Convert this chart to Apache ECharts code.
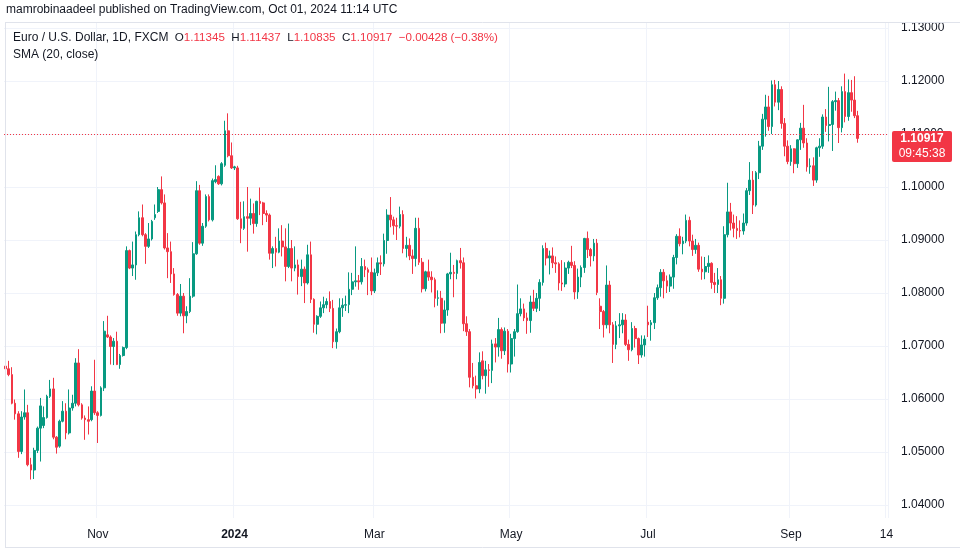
<!DOCTYPE html>
<html><head><meta charset="utf-8">
<script src="https://cdn.jsdelivr.net/npm/echarts/dist/echarts.min.js"></script>
<style>html,body{margin:0;padding:0;background:#fff}#c{width:960px;height:551px}</style>
</head><body><div id="c"></div>
<script>
// ---- DATA ----
const firstDate = '2023-09-21';
const lastAxisDate = '2024-10-14';
const opens = [1.0662,1.0657,1.0646,1.0592,1.0572,1.0501,1.0566,1.0574,1.0476,1.0466,1.0503,1.0545,1.0550,1.0565,1.0605,1.0619,1.0528,1.0511,1.0558,1.0577,1.0536,1.0583,1.0592,1.0668,1.0589,1.0564,1.0561,1.0561,1.0615,1.0574,1.0569,1.0621,1.0721,1.0717,1.0699,1.0709,1.0665,1.0682,1.0697,1.0880,1.0847,1.0853,1.0910,1.0942,1.0910,1.0888,1.0902,1.0942,1.0954,1.0995,1.0970,1.0885,1.0878,1.0836,1.0797,1.0762,1.0794,1.0757,1.0765,1.0794,1.0874,1.0993,1.0894,1.0926,1.0982,1.0938,1.1010,1.1020,1.1006,1.1041,1.1106,1.1059,1.1036,1.1036,1.0940,1.0922,1.0944,1.0941,1.0950,1.0931,1.0973,1.0970,1.0950,1.0947,1.0875,1.0884,1.0877,1.0898,1.0887,1.0850,1.0884,1.0847,1.0853,1.0831,1.0845,1.0819,1.0872,1.0788,1.0741,1.0756,1.0772,1.0778,1.0784,1.0771,1.0708,1.0727,1.0772,1.0777,1.0778,1.0807,1.0821,1.0823,1.0821,1.0850,1.0844,1.0839,1.0804,1.0838,1.0857,1.0855,1.0899,1.0947,1.0938,1.0927,1.0926,1.0948,1.0884,1.0890,1.0870,1.0865,1.0922,1.0858,1.0808,1.0840,1.0830,1.0825,1.0790,1.0790,1.0743,1.0768,1.0836,1.0839,1.0837,1.0861,1.0857,1.0742,1.0727,1.0641,1.0625,1.0619,1.0672,1.0644,1.0655,1.0654,1.0704,1.0698,1.0731,1.0691,1.0728,1.0666,1.0714,1.0727,1.0761,1.0770,1.0753,1.0748,1.0783,1.0771,1.0790,1.0820,1.0884,1.0866,1.0870,1.0857,1.0855,1.0819,1.0817,1.0847,1.0858,1.0852,1.0802,1.0830,1.0848,1.0903,1.0882,1.0870,1.0894,1.0775,1.0765,1.0740,1.0815,1.0740,1.0703,1.0738,1.0740,1.0749,1.0703,1.0693,1.0733,1.0714,1.0683,1.0702,1.0745,1.0740,1.0744,1.0791,1.0810,1.0839,1.0823,1.0813,1.0830,1.0867,1.0907,1.0893,1.0898,1.0937,1.0898,1.0882,1.0890,1.0845,1.0840,1.0850,1.0856,1.0820,1.0816,1.0825,1.0790,1.0910,1.0953,1.0932,1.0922,1.0918,1.0917,1.0932,1.0993,1.1013,1.0966,1.1027,1.1077,1.1128,1.1151,1.1114,1.1193,1.1160,1.1184,1.1120,1.1077,1.1048,1.1072,1.1044,1.1089,1.1111,1.1083,1.1038,1.1040,1.1013,1.1074,1.1077,1.1132,1.1116,1.1118,1.1161,1.1163,1.1112,1.1180,1.1133,1.1178,1.1164,1.11345];
const highs = [1.0674,1.0672,1.0660,1.0599,1.0577,1.0577,1.0618,1.0589,1.0489,1.0508,1.0548,1.0602,1.0586,1.0608,1.0636,1.0640,1.0530,1.0561,1.0596,1.0592,1.0618,1.0608,1.0677,1.0694,1.0592,1.0569,1.0586,1.0624,1.0674,1.0577,1.0624,1.0747,1.0757,1.0720,1.0715,1.0727,1.0685,1.0699,1.0888,1.0882,1.0897,1.0916,1.0954,1.0967,1.0913,1.0932,1.0938,1.0967,1.1000,1.1020,1.0986,1.0913,1.0897,1.0847,1.0800,1.0817,1.0800,1.0775,1.0828,1.0896,1.1011,1.1004,1.0932,1.0986,1.0986,1.1016,1.1041,1.1022,1.1047,1.1125,1.1139,1.1084,1.1040,1.1040,1.0972,1.0973,1.1000,1.0978,1.0969,1.0974,1.0999,1.0972,1.0956,1.0950,1.0888,1.0906,1.0922,1.0928,1.0922,1.0931,1.0900,1.0888,1.0863,1.0863,1.0850,1.0891,1.0897,1.0790,1.0758,1.0784,1.0793,1.0790,1.0803,1.0787,1.0733,1.0790,1.0790,1.0795,1.0839,1.0838,1.0888,1.0834,1.0866,1.0863,1.0848,1.0867,1.0846,1.0867,1.0871,1.0912,1.0958,1.0981,1.0944,1.0942,1.0963,1.0956,1.0906,1.0903,1.0882,1.0942,1.0942,1.0866,1.0842,1.0863,1.0841,1.0829,1.0805,1.0804,1.0786,1.0838,1.0876,1.0853,1.0863,1.0885,1.0867,1.0756,1.0732,1.0668,1.0644,1.0688,1.0690,1.0672,1.0666,1.0712,1.0715,1.0753,1.0735,1.0735,1.0732,1.0723,1.0732,1.0816,1.0790,1.0780,1.0763,1.0795,1.0806,1.0800,1.0826,1.0890,1.0895,1.0880,1.0886,1.0869,1.0858,1.0862,1.0858,1.0861,1.0889,1.0860,1.0846,1.0852,1.0904,1.0916,1.0885,1.0902,1.0902,1.0790,1.0768,1.0852,1.0823,1.0745,1.0747,1.0762,1.0762,1.0760,1.0712,1.0745,1.0738,1.0716,1.0720,1.0720,1.0776,1.0749,1.0800,1.0816,1.0845,1.0845,1.0833,1.0835,1.0872,1.0911,1.0922,1.0906,1.0948,1.0944,1.0910,1.0902,1.0895,1.0869,1.0868,1.0871,1.0858,1.0838,1.0847,1.0832,1.0926,1.1008,1.0970,1.0948,1.0945,1.0937,1.0950,1.0998,1.1047,1.1030,1.1030,1.1087,1.1138,1.1174,1.1172,1.1201,1.1202,1.1200,1.1190,1.1130,1.1088,1.1079,1.1073,1.1090,1.1121,1.1155,1.1092,1.1054,1.1056,1.1076,1.1092,1.1137,1.1147,1.1189,1.1164,1.1180,1.1168,1.1190,1.1214,1.1203,1.1202,1.1209,1.11437];
const lows = [1.0618,1.0643,1.0590,1.0561,1.0489,1.0496,1.0561,1.0473,1.0448,1.0449,1.0498,1.0482,1.0545,1.0563,1.0602,1.0524,1.0497,1.0508,1.0556,1.0524,1.0533,1.0578,1.0586,1.0586,1.0561,1.0523,1.0533,1.0558,1.0570,1.0517,1.0567,1.0615,1.0715,1.0665,1.0664,1.0664,1.0657,1.0680,1.0694,1.0845,1.0832,1.0825,1.0907,1.0907,1.0855,1.0885,1.0899,1.0938,1.0951,1.0967,1.0882,1.0828,1.0819,1.0795,1.0757,1.0756,1.0724,1.0743,1.0762,1.0791,1.0872,1.0891,1.0889,1.0923,1.0935,1.0935,1.1007,1.1004,1.1003,1.1038,1.1056,1.1034,1.1032,1.0938,1.0894,1.0919,1.0878,1.0928,1.0912,1.0925,1.0947,1.0928,1.0934,1.0863,1.0847,1.0850,1.0875,1.0869,1.0822,1.0847,1.0822,1.0841,1.0797,1.0813,1.0781,1.0816,1.0781,1.0725,1.0722,1.0753,1.0762,1.0771,1.0764,1.0696,1.0695,1.0724,1.0755,1.0766,1.0762,1.0796,1.0812,1.0806,1.0816,1.0830,1.0796,1.0796,1.0800,1.0832,1.0834,1.0850,1.0874,1.0924,1.0910,1.0900,1.0922,1.0875,1.0867,1.0862,1.0836,1.0850,1.0853,1.0801,1.0803,1.0823,1.0801,1.0773,1.0776,1.0724,1.0725,1.0757,1.0826,1.0792,1.0826,1.0846,1.0728,1.0719,1.0622,1.0620,1.0601,1.0611,1.0637,1.0610,1.0623,1.0630,1.0669,1.0680,1.0676,1.0683,1.0650,1.0650,1.0680,1.0725,1.0756,1.0747,1.0723,1.0725,1.0766,1.0764,1.0766,1.0814,1.0852,1.0835,1.0847,1.0838,1.0805,1.0804,1.0811,1.0836,1.0847,1.0788,1.0789,1.0811,1.0838,1.0866,1.0850,1.0860,1.0796,1.0732,1.0716,1.0733,1.0724,1.0668,1.0694,1.0715,1.0724,1.0700,1.0672,1.0690,1.0697,1.0666,1.0678,1.0680,1.0717,1.0710,1.0732,1.0787,1.0793,1.0790,1.0800,1.0802,1.0808,1.0854,1.0888,1.0873,1.0894,1.0888,1.0870,1.0874,1.0840,1.0825,1.0826,1.0838,1.0808,1.0800,1.0800,1.0777,1.0780,1.0905,1.0918,1.0905,1.0902,1.0905,1.0910,1.0927,1.0985,1.0949,1.0963,1.1015,1.1070,1.1095,1.1106,1.1100,1.1152,1.1145,1.1110,1.1058,1.1043,1.1040,1.1026,1.1036,1.1070,1.1074,1.1029,1.1025,1.1002,1.1008,1.1057,1.1072,1.1104,1.1086,1.1068,1.1144,1.1083,1.1103,1.1122,1.1125,1.1142,1.1130,1.10835];
const closes = [1.0657,1.0646,1.0592,1.0572,1.0501,1.0566,1.0574,1.0476,1.0466,1.0503,1.0545,1.0587,1.0565,1.0605,1.0619,1.0528,1.0509,1.0558,1.0577,1.0536,1.0583,1.0592,1.0668,1.0589,1.0564,1.0561,1.0558,1.0615,1.0574,1.0569,1.0621,1.0728,1.0717,1.0699,1.0709,1.0665,1.0682,1.0697,1.0880,1.0847,1.0853,1.0910,1.0942,1.0910,1.0888,1.0902,1.0935,1.0948,1.0995,1.0970,1.0885,1.0878,1.0836,1.0797,1.0762,1.0794,1.0757,1.0765,1.0794,1.0874,1.0993,1.0894,1.0926,1.0982,1.0938,1.1012,1.1014,1.1006,1.1044,1.1106,1.1059,1.1036,1.1038,1.0940,1.0922,1.0944,1.0941,1.0950,1.0931,1.0973,1.0969,1.0950,1.0947,1.0875,1.0884,1.0877,1.0898,1.0887,1.0850,1.0884,1.0847,1.0853,1.0831,1.0845,1.0819,1.0872,1.0788,1.0741,1.0756,1.0772,1.0778,1.0784,1.0771,1.0708,1.0727,1.0772,1.0777,1.0778,1.0807,1.0821,1.0823,1.0821,1.0850,1.0844,1.0839,1.0804,1.0838,1.0857,1.0855,1.0899,1.0947,1.0938,1.0927,1.0926,1.0948,1.0884,1.0890,1.0870,1.0865,1.0922,1.0858,1.0808,1.0840,1.0830,1.0825,1.0790,1.0791,1.0743,1.0768,1.0836,1.0839,1.0837,1.0861,1.0857,1.0742,1.0727,1.0641,1.0625,1.0619,1.0669,1.0644,1.0655,1.0654,1.0704,1.0698,1.0731,1.0691,1.0728,1.0666,1.0714,1.0727,1.0761,1.0770,1.0753,1.0748,1.0783,1.0771,1.0790,1.0820,1.0884,1.0866,1.0870,1.0857,1.0855,1.0819,1.0817,1.0847,1.0858,1.0852,1.0802,1.0830,1.0848,1.0903,1.0882,1.0870,1.0894,1.0801,1.0765,1.0740,1.0815,1.0740,1.0703,1.0738,1.0740,1.0749,1.0703,1.0693,1.0733,1.0714,1.0683,1.0702,1.0713,1.0740,1.0744,1.0791,1.0810,1.0839,1.0823,1.0813,1.0830,1.0867,1.0907,1.0893,1.0898,1.0937,1.0898,1.0882,1.0890,1.0845,1.0840,1.0850,1.0856,1.0820,1.0816,1.0825,1.0790,1.0910,1.0953,1.0932,1.0922,1.0918,1.0917,1.0932,1.0993,1.1013,1.0966,1.1027,1.1077,1.1128,1.1151,1.1114,1.1193,1.1160,1.1184,1.1120,1.1077,1.1048,1.1072,1.1044,1.1089,1.1111,1.1083,1.1038,1.1040,1.1013,1.1074,1.1077,1.1132,1.1116,1.1118,1.1161,1.1163,1.1112,1.1180,1.1133,1.1178,1.1164,1.11345,1.10917];
const xTickDates  = ['2023-11-01','2024-01-01','2024-03-01','2024-05-01','2024-07-01','2024-09-02','2024-10-14'];
const xTickLabels = ['Nov','2024','Mar','May','Jul','Sep','14'];
const yMin = 1.04, yMax = 1.13, yStep = 0.01;
const headerText = 'mamrobinaadeel published on TradingView.com, Oct 01, 2024 11:14 UTC';
const symbolText = 'Euro / U.S. Dollar, 1D, FXCM';
const studyText = 'SMA (20, close)';
const clockText = '09:45:38';

// ---- BUILD ----
function weekdays(a, b) {
  const out = []; let t = Date.parse(a + 'T00:00:00Z'); const e = Date.parse(b + 'T00:00:00Z');
  while (t <= e) { const w = new Date(t).getUTCDay(); if (w !== 0 && w !== 6) out.push(new Date(t).toISOString().slice(0, 10)); t += 86400000; }
  return out;
}
const dates = weekdays(firstDate, lastAxisDate);
const candles = opens.map((o, i) => [o, closes[i], lows[i], highs[i]]);
const n = closes.length;
const lastClose = closes[n - 1];
const chg = closes[n - 1] - closes[n - 2];
const pct = chg / closes[n - 2] * 100;
const minus = '\u2212';
const fmt5 = v => v.toFixed(5);
const fmtSigned = v => (v < 0 ? minus : '+') + Math.abs(v).toFixed(5);
const fmtPct = v => (v < 0 ? minus : '+') + Math.abs(v).toFixed(2) + '%';

const UP = '#089981', DOWN = '#F23645', GRID = '#f0f3fa', TXT = '#131722';
const FONT = '"Liberation Sans", Arial, sans-serif';
const isTick = (idx, val) => xTickDates.indexOf(val) >= 0;

const chart = echarts.init(document.getElementById('c'), null, { renderer: 'canvas' });
const baseOption = {
  animation: false,
  backgroundColor: '#ffffff',
  textStyle: { fontFamily: FONT },
  grid: [
    { left: 4, right: 72, top: 28, bottom: 46 },
    { left: 4, right: 72, top: 22, bottom: 33 }
  ],
  xAxis: [
    {
      type: 'category', gridIndex: 0, data: dates, boundaryGap: true,
      axisLine: { show: false }, axisTick: { show: false }, splitLine: { show: false },
      axisLabel: {
        interval: isTick, margin: 24, color: TXT, fontSize: 12, fontFamily: FONT,
        formatter: (val) => { const k = xTickDates.indexOf(val); if (k < 0) return ''; const s = xTickLabels[k]; return /^\d{4}$/.test(s) ? '{b|' + s + '}' : s; },
        rich: { b: { fontWeight: 'bold', color: TXT, fontSize: 12, fontFamily: FONT } }
      }
    },
    {
      type: 'category', gridIndex: 1, data: dates, boundaryGap: true,
      axisLine: { show: false }, axisTick: { show: false }, axisLabel: { show: false },
      splitLine: { show: true, interval: isTick, lineStyle: { color: GRID, width: 1 } }
    }
  ],
  yAxis: [
    {
      type: 'value', gridIndex: 0, position: 'right', min: yMin, max: yMax, interval: yStep, scale: true,
      axisLine: { show: false }, axisTick: { show: false },
      axisLabel: { margin: 13, color: TXT, fontSize: 12, fontFamily: FONT, formatter: v => fmt5(v) },
      splitLine: { show: true, lineStyle: { color: GRID, width: 1 } }
    },
    { type: 'value', gridIndex: 1, show: false, min: 0, max: 1 }
  ],
  series: [
    {
      type: 'candlestick', xAxisIndex: 0, yAxisIndex: 0, data: candles, barWidth: 2.2,
      itemStyle: { color: UP, color0: DOWN, borderColor: UP, borderColor0: DOWN, borderWidth: 1 },
      markLine: {
        silent: true, symbol: ['none', 'none'], label: { show: false },
        lineStyle: { color: DOWN, type: [1, 2], width: 1 },
        data: [{ yAxis: lastClose }]
      }
    },
    { type: 'line', xAxisIndex: 1, yAxisIndex: 1, data: [], silent: true }
  ]
};
chart.setOption(baseOption);

const py = chart.convertToPixel({ yAxisIndex: 0 }, lastClose);
const F = '11.6px ' + FONT;
const G = '12px ' + FONT;
chart.setOption({
  graphic: [
    { type: 'line', silent: true, z: 50, shape: { x1: 5, y1: 22.5, x2: 960, y2: 22.5 }, style: { stroke: '#e0e3eb', lineWidth: 1 } },
    { type: 'line', silent: true, z: 50, shape: { x1: 5.5, y1: 22, x2: 5.5, y2: 548 }, style: { stroke: '#e0e3eb', lineWidth: 1 } },
    { type: 'line', silent: true, z: 50, shape: { x1: 5, y1: 547.5, x2: 960, y2: 547.5 }, style: { stroke: '#e0e3eb', lineWidth: 1 } },
    { type: 'text', silent: true, z: 50, left: 6, top: 4, style: { text: headerText, font: G, fill: TXT } },
    {
      type: 'text', silent: true, z: 50, left: 13, top: 32,
      style: {
        text: '{t|' + symbolText + '}  {k|O}{v|' + fmt5(opens[n-1]) + '}  {k|H}{v|' + fmt5(highs[n-1]) + '}  {k|L}{v|' + fmt5(lows[n-1]) + '}  {k|C}{v|' + fmt5(closes[n-1]) + '}  {v|' + fmtSigned(chg) + ' (' + fmtPct(pct) + ')}',
        font: F,
        rich: {
          t: { fill: TXT, font: G },
          k: { fill: TXT, font: F },
          v: { fill: DOWN, font: F }
        }
      }
    },
    { type: 'text', silent: true, z: 50, left: 13, top: 49, style: { text: studyText, font: G, fill: TXT } },
    { type: 'rect', silent: true, z: 100, shape: { x: 892, y: py - 7.5, width: 60, height: 31, r: 2 }, style: { fill: DOWN } },
    { type: 'text', silent: true, z: 101, x: 922, y: py + 0.5, style: { text: fmt5(lastClose), font: 'bold 12px ' + FONT, fill: '#ffffff', align: 'center', verticalAlign: 'middle' } },
    { type: 'text', silent: true, z: 101, x: 922, y: py + 15.5, style: { text: clockText, font: '12px ' + FONT, fill: '#ffffff', align: 'center', verticalAlign: 'middle' } }
  ]
});
</script>
</body></html>
